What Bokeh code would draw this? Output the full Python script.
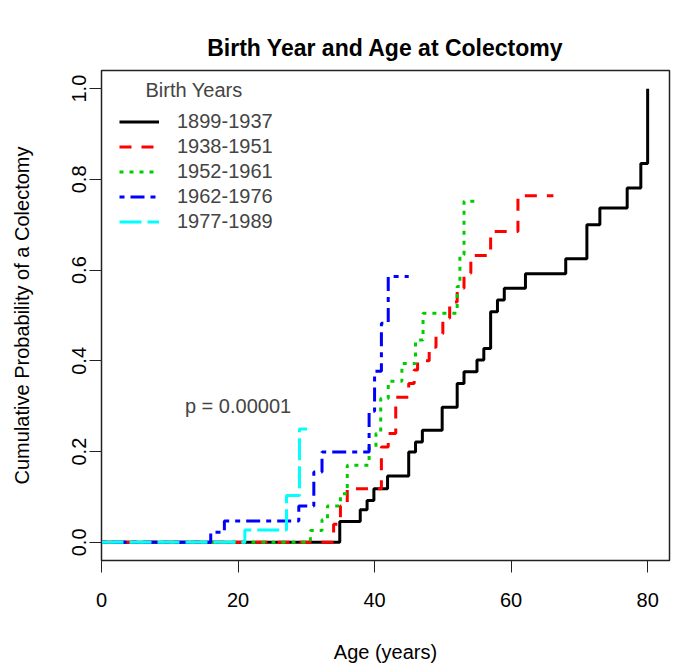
from bokeh.plotting import figure
from bokeh.models import (Range1d, FixedTicker, PrintfTickFormatter, Legend,
                          LegendItem, Label, ColumnDataSource)
from bokeh.embed import file_html
from bokeh.resources import INLINE

# ---- data ----
groups = ["1899-1937", "1938-1951", "1952-1961", "1962-1976", "1977-1989"]

black_age = [34.9, 37.9, 38.9, 39.9, 41.9, 45.0, 46.0, 47.0, 49.9, 52.1, 53.1,
             55.0, 56.0, 57.0, 58.0, 59.0, 62.1, 68.0, 71.1, 73.0, 77.0, 79.0, 80.0]
black_prob = [0.046, 0.072, 0.092, 0.118, 0.146, 0.199, 0.221, 0.247, 0.298, 0.35,
              0.376, 0.402, 0.427, 0.508, 0.534, 0.56, 0.592, 0.625, 0.70, 0.737,
              0.781, 0.835, 1.0]
black_end = 80.0

red_age = [34.0, 35.0, 36.0, 41.0, 42.0, 43.1, 45.0, 45.8, 46.3, 48.0, 49.0, 50.0,
           51.0, 52.1, 53.1, 54.1, 57.0, 61.0]
red_prob = [0.04, 0.08, 0.118, 0.21, 0.24, 0.32, 0.35, 0.38, 0.40, 0.43, 0.46, 0.494,
            0.53, 0.56, 0.593, 0.632, 0.685, 0.764]
red_end = 66.2

green_age = [30.6, 32.3, 33.1, 35.0, 36.0, 39.2, 40.2, 40.9, 42.0, 44.0, 46.0, 47.1,
             52.1, 52.5, 53.1]
green_prob = [0.026, 0.05, 0.08, 0.107, 0.17, 0.21, 0.24, 0.317, 0.355, 0.394, 0.446,
              0.505, 0.564, 0.634, 0.752]
green_end = 55.3

blue_age = [16.0, 18.0, 28.9, 31.1, 32.3, 39.2, 40.0, 41.0, 42.0]
blue_prob = [0.022, 0.047, 0.08, 0.155, 0.199, 0.289, 0.377, 0.483, 0.586]
blue_end = 45.0

cyan_age = [21.0, 27.1, 29.0]
cyan_prob = [0.027, 0.103, 0.25]
cyan_end = 30.1

x_ticks = [0, 20, 40, 60, 80]
y_ticks = [0.0, 0.2, 0.4, 0.6, 0.8, 1.0]

FONT = "Liberation Sans"

p = figure(width=685, height=668, output_backend="svg", toolbar_location=None,
           x_range=Range1d(0, 83.2), y_range=Range1d(-0.04, 1.04),
           min_border_left=101, min_border_right=16, min_border_top=70,
           min_border_bottom=108)
p.grid.visible = False
p.outline_line_color = "#222222"
p.outline_line_width = 1.5

p.title.text = "Birth Year and Age at Colectomy"
p.title.align = "center"
p.title.text_font = FONT
p.title.text_font_size = "23px"
p.title.text_font_style = "bold"
p.title.text_color = "black"
p.title.standoff = 20

series = [
    (black_age, black_prob, black_end, "black", None),
    (red_age, red_prob, red_end, "#FF0000", "12 10"),
    (green_age, green_prob, green_end, "#00CD00", "4 6"),
    (blue_age, blue_prob, blue_end, "#0000FF", "5 6 14 6"),
    (cyan_age, cyan_prob, cyan_end, "#00FFFF", "22 6"),
]

renderers = []
for ages, probs, end, color, dash in series:
    xs = [0.0] + list(ages) + [end]
    ys = [0.0] + list(probs) + [probs[-1]]
    src = ColumnDataSource(dict(x=xs, y=ys))
    kw = dict(line_color=color, line_width=3)
    if dash:
        kw["line_dash"] = dash
    r = p.step("x", "y", source=src, mode="after", **kw)
    renderers.append(r)

for ax in (p.xaxis, p.yaxis):
    ax.major_label_text_font = FONT
    ax.major_label_text_font_size = "20px"
    ax.major_label_text_color = "black"
    ax.axis_label_text_font = FONT
    ax.axis_label_text_font_size = "20px"
    ax.axis_label_text_font_style = "normal"
    ax.axis_label_text_color = "black"
    ax.minor_tick_line_color = None
    ax.major_tick_in = 0
    ax.major_tick_out = 12
    ax.major_tick_line_color = "#222222"
    ax.axis_line_color = "#222222"

p.xaxis.ticker = FixedTicker(ticks=x_ticks)
p.yaxis.ticker = FixedTicker(ticks=y_ticks)
p.yaxis.formatter = PrintfTickFormatter(format="%.1f")
p.yaxis.major_label_orientation = "vertical"
p.xaxis.axis_label = "Age (years)"
p.yaxis.axis_label = "Cumulative Probability of a Colectomy"
p.xaxis.major_label_standoff = 20
p.xaxis.axis_label_standoff = 31
p.yaxis.major_label_standoff = 3
p.yaxis.axis_label_standoff = 37

legend = Legend(
    items=[LegendItem(label=g, renderers=[r]) for g, r in zip(groups, renderers)],
    location=(18, 326), margin=0, padding=0, spacing=0,
    glyph_width=40, glyph_height=25, label_height=25, label_standoff=18,
    border_line_color=None, background_fill_alpha=0,
    label_text_font=FONT, label_text_font_size="20px",
)
p.add_layout(legend)

p.add_layout(Label(x=13.55, y=0.998, text="Birth Years", text_align="center",
                   text_baseline="middle", text_font=FONT, text_font_size="20px"))
p.add_layout(Label(x=20, y=0.3, text="p = 0.00001", text_align="center",
                   text_baseline="middle", text_font=FONT, text_font_size="20px"))

open("out.html", "w").write(file_html(p, INLINE))
